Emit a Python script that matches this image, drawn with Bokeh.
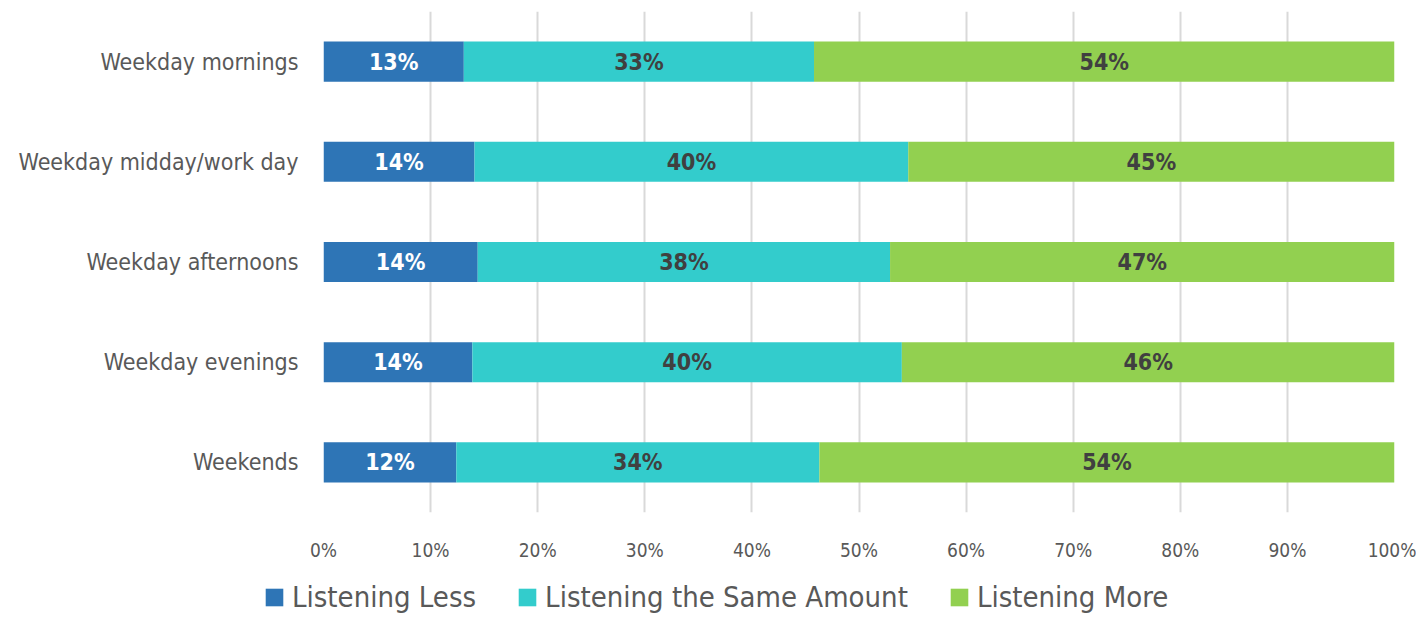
from bokeh.plotting import figure
from bokeh.models import FactorRange, Range1d, FixedTicker, Legend, LegendItem, ColumnDataSource
from bokeh.core.properties import value
from bokeh.embed import file_html
from bokeh.resources import INLINE

categories = ["Weekday mornings", "Weekday midday/work day", "Weekday afternoons",
              "Weekday evenings", "Weekends"]
series_names = ["Listening Less", "Listening the Same Amount", "Listening More"]
listening_less = [0.131, 0.141, 0.144, 0.139, 0.124]
listening_same = [0.327, 0.405, 0.385, 0.401, 0.339]
listening_more = [0.542, 0.454, 0.471, 0.460, 0.537]
tick_values = [0.0, 0.1, 0.2, 0.3, 0.4, 0.5, 0.6, 0.7, 0.8, 0.9, 1.0]
tick_labels = ["0%", "10%", "20%", "30%", "40%", "50%", "60%", "70%", "80%", "90%", "100%"]

colors = ["#2E75B6", "#33CCCC", "#92D050"]
label_colors = ["#FFFFFF", "#404040", "#404040"]
FONT = "'Liberation Sans Narrow', 'DejaVu Sans Condensed', 'Roboto Condensed', sans-serif"

series = [listening_less, listening_same, listening_more]

p = figure(frame_width=1071, frame_height=501, output_backend="svg", toolbar_location=None,
           y_range=FactorRange(factors=list(reversed(categories)), range_padding=0),
           x_range=Range1d(0, 1),
           min_border_left=323, min_border_right=22, min_border_top=11, min_border_bottom=55)
p.outline_line_color = None
p.background_fill_color = "white"
p.border_fill_color = "white"

renderers = []
starts = [0.0] * len(categories)
for vals, col, lcol in zip(series, colors, label_colors):
    ends = [s + v for s, v in zip(starts, vals)]
    src = ColumnDataSource(dict(y=categories, left=starts, right=ends,
                                mid=[(s + e) / 2 for s, e in zip(starts, ends)],
                                lab=["%d%%" % round(v * 100) for v in vals]))
    r = p.hbar(y="y", left="left", right="right", height=0.4, source=src,
               fill_color=col, line_color=None)
    renderers.append(r)
    p.text(x="mid", y="y", text="lab", source=src, text_align="center",
           text_baseline="middle", text_color=lcol, text_font=value(FONT),
           text_font_size="23px", text_font_style="bold")
    starts = ends

# axes
p.xaxis.ticker = FixedTicker(ticks=tick_values)
p.xaxis.major_label_overrides = {v: l for v, l in zip(tick_values, tick_labels)}
p.xaxis.axis_line_color = None
p.xaxis.major_tick_line_color = None
p.xaxis.minor_tick_line_color = None
p.xaxis.major_label_text_font = FONT
p.xaxis.major_label_text_font_size = "19px"
p.xaxis.major_label_text_color = "#595959"
p.xaxis.major_label_standoff = 20

p.yaxis.axis_line_color = None
p.yaxis.major_tick_line_color = None
p.yaxis.minor_tick_line_color = None
p.yaxis.major_label_text_font = FONT
p.yaxis.major_label_text_font_size = "23px"
p.yaxis.major_label_text_color = "#595959"
p.yaxis.major_label_standoff = 19

p.ygrid.grid_line_color = None
p.xgrid.grid_line_color = "#D9D9D9"
p.xgrid.grid_line_width = 2
p.xgrid.ticker = FixedTicker(ticks=tick_values)

# legend strip below the chart (separate root, so its frame is not aligned to the chart's)
p2 = figure(width=1416, height=49, output_backend="svg", toolbar_location=None,
            x_axis_type=None, y_axis_type=None, min_border=0,
            x_range=Range1d(0, 1), y_range=Range1d(0, 1))
p2.outline_line_color = None
p2.border_fill_color = "white"
p2.background_fill_color = "white"
# zero-width placeholder bars outside the visible range; they only supply legend swatches
legend_renderers = [p2.hbar(y=[-5], left=[0], right=[0], height=0.4, fill_color=c, line_color=None)
                    for c in colors]
legend = Legend(items=[LegendItem(label=n, renderers=[r]) for n, r in zip(series_names, legend_renderers)],
                orientation="horizontal", location=(263, 2),
                label_text_font=FONT, label_text_font_size="29px",
                label_text_color="#595959", glyph_width=22, glyph_height=22,
                label_height=31, spacing=40, label_standoff=7, border_line_color=None,
                background_fill_alpha=0, margin=0, padding=0)
p2.add_layout(legend)

open("out.html", "w").write(file_html([p, p2], INLINE))
